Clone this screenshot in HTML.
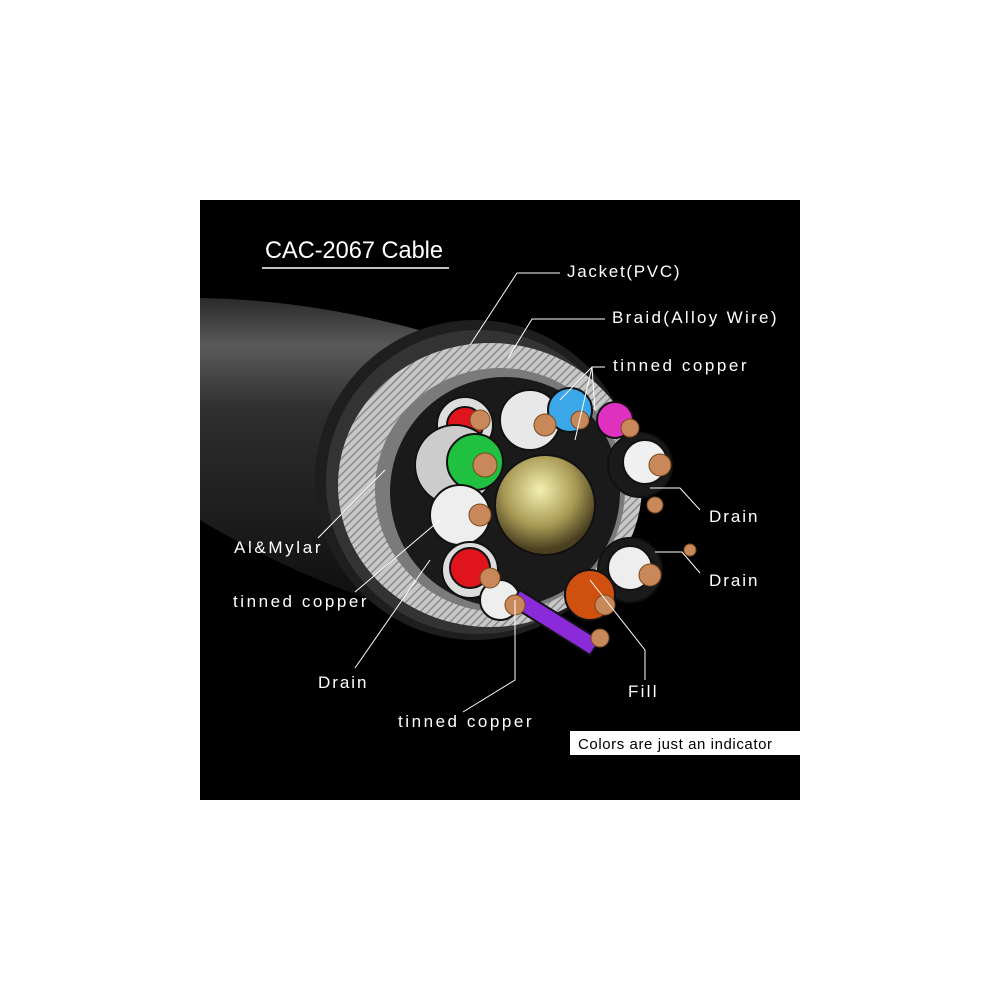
<!DOCTYPE html>
<html><head><meta charset="utf-8"><style>
html,body{margin:0;padding:0;background:#fff;width:1000px;height:1000px;overflow:hidden}
svg{display:block}
text{font-family:"Liberation Sans",sans-serif;fill:#fff}
</style></head><body>
<svg width="1000" height="1000" viewBox="0 0 1000 1000">
<defs>
<linearGradient id="tube" x1="0" y1="0" x2="0" y2="1">
<stop offset="0" stop-color="#2a2a2a"/><stop offset="0.15" stop-color="#5a5a5a"/><stop offset="0.35" stop-color="#2e2e2e"/><stop offset="1" stop-color="#0c0c0c"/>
</linearGradient>
<radialGradient id="fill" cx="0.45" cy="0.35" r="0.6">
<stop offset="0" stop-color="#f3f0b0"/><stop offset="0.6" stop-color="#a89a55"/><stop offset="1" stop-color="#4a4020"/>
</radialGradient>
<pattern id="weave" width="8" height="8" patternUnits="userSpaceOnUse">
<rect width="8" height="8" fill="#c8c8c8"/><path d="M0 8L8 0M-2 2L2 -2M6 10L10 6" stroke="#8a8a8a" stroke-width="1.5"/>
</pattern>
</defs>
<rect x="200" y="200" width="600" height="600" fill="#000"/>
<path d="M200 298 Q330 300 470 345 L430 620 Q300 580 200 520 Z" fill="url(#tube)"/>
<ellipse cx="475" cy="480" rx="160" ry="160" fill="#1e1e1e"/>
<ellipse cx="478" cy="482" rx="152" ry="152" fill="#333"/>
<ellipse cx="490" cy="485" rx="152" ry="142" fill="url(#weave)"/>
<ellipse cx="500" cy="490" rx="125" ry="122" fill="#7a7a7a"/>
<ellipse cx="505" cy="492" rx="115" ry="115" fill="#1a1a1a"/>
<g stroke="#111" stroke-width="2">
<circle cx="465" cy="425" r="28" fill="#ddd"/><circle cx="465" cy="425" r="18" fill="#e0141c"/>
<circle cx="530" cy="420" r="30" fill="#e8e8e8"/>
<circle cx="570" cy="410" r="22" fill="#3aa8e8"/>
<circle cx="615" cy="420" r="18" fill="#e030c0"/>
<circle cx="455" cy="465" r="40" fill="#ccc"/><circle cx="475" cy="462" r="28" fill="#20c040"/>
<circle cx="640" cy="465" r="32" fill="#1a1a1a"/><circle cx="645" cy="462" r="22" fill="#f0f0f0"/>
<circle cx="460" cy="515" r="30" fill="#eee"/>
<circle cx="545" cy="505" r="50" fill="url(#fill)"/>
<circle cx="630" cy="570" r="32" fill="#1a1a1a"/><circle cx="630" cy="568" r="22" fill="#eee"/>
<circle cx="470" cy="570" r="28" fill="#ddd"/><circle cx="470" cy="568" r="20" fill="#e0141c"/>
<circle cx="590" cy="595" r="25" fill="#d05010"/>
<circle cx="500" cy="600" r="20" fill="#eee"/>
<path d="M520 590 L600 640 L590 655 L510 605 Z" fill="#8a2ad8"/>
</g>
<g fill="#c8885a" stroke="#7a4a20" stroke-width="1">
<circle cx="485" cy="465" r="12"/><circle cx="480" cy="420" r="10"/><circle cx="545" cy="425" r="11"/><circle cx="580" cy="420" r="9"/><circle cx="630" cy="428" r="9"/>
<circle cx="660" cy="465" r="11"/><circle cx="480" cy="515" r="11"/><circle cx="650" cy="575" r="11"/><circle cx="490" cy="578" r="10"/>
<circle cx="605" cy="605" r="10"/><circle cx="515" cy="605" r="10"/><circle cx="600" cy="638" r="9"/><circle cx="655" cy="505" r="8"/><circle cx="690" cy="550" r="6"/>
</g>
<text x="265" y="258" font-size="24" textLength="178" lengthAdjust="spacingAndGlyphs">CAC-2067 Cable</text>
<line x1="262" y1="268" x2="449" y2="268" stroke="#fff" stroke-width="1.5"/>
<g stroke="#fff" stroke-width="1" fill="none">
<polyline points="560,273 517,273 470,345"/>
<polyline points="605,319 532,319 508,358"/>
<polyline points="605,367 592,367 560,400"/>
<polyline points="592,367 575,440"/>
<polyline points="592,367 595,410"/>
<polyline points="700,510 680,488 650,488"/>
<polyline points="700,573 682,552 655,552"/>
<polyline points="318,538 385,470"/>
<polyline points="355,592 440,520"/>
<polyline points="355,668 430,560"/>
<polyline points="463,712 515,680 515,600"/>
<polyline points="645,680 645,650 590,580"/>
</g>
<g font-size="17" letter-spacing="1.5">
<text x="567" y="277" textLength="114">Jacket(PVC)</text>
<text x="612" y="323" textLength="166">Braid(Alloy Wire)</text>
<text x="613" y="371" textLength="135">tinned copper</text>
<text x="709" y="522" textLength="50">Drain</text>
<text x="709" y="586" textLength="50">Drain</text>
<text x="234" y="553" textLength="88">Al&amp;Mylar</text>
<text x="233" y="607" textLength="135">tinned copper</text>
<text x="318" y="688" textLength="50">Drain</text>
<text x="398" y="727" textLength="135">tinned copper</text>
<text x="628" y="697" textLength="30">Fill</text>
</g>
<rect x="570" y="731" width="230" height="24" fill="#fff"/>
<text x="578" y="749" font-size="15" textLength="194" style="fill:#000">Colors are just an indicator</text>
</svg>
</body></html>
